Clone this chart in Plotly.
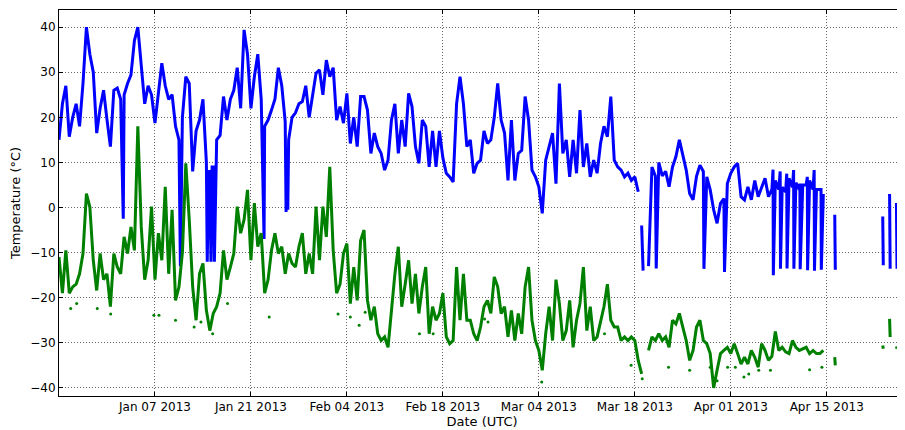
import pandas as pd
import plotly.graph_objects as go

# ---------------- data (12-hourly samples starting 2012-12-24 00:00 UTC) ----------------
START = "2012-12-24 00:00"

blue_base = [
    15, 23, 27, 15.7, 20, 23, 18, 27.5, 40, 34,
    30, 16.5, 22, 26, 19.5, 13.5, 26, 26.5, 24, 25,
    27.5, 29.4, 37, 40, 31, 23, 27, 25, 18.7, 25,
    32, 27, 24, 25, 18, 15, 20, 29, 27.5, 8,
    17, 19.4, 24, 10, 8, 9, 15, 16, 24.6, 19.4,
    24, 26, 31, 22, 39.4, 34, 22, 29, 34, 24,
    18, 19.4, 21.6, 24, 31, 27, 19, 15, 20, 21,
    23, 23.5, 27, 20, 25, 29.8, 30.5, 25, 32.7, 29,
    31, 19.4, 22.4, 18.7, 25.3, 14.2, 20, 13.5, 24.6, 24.6,
    21.6, 12, 16.5, 13.5, 12, 8.3, 10.5, 19.4, 23, 12,
    19.4, 13.5, 25.3, 22.4, 13.5, 9.8, 19.4, 18, 9, 17,
    9, 17, 11, 7.6, 6.8, 5.7, 23, 29, 23, 13.5,
    15, 7.6, 9.8, 10.5, 17, 14.2, 15, 20, 27.5, 19.4,
    16.5, 6, 19.4, 6, 12, 12.7, 24.6, 19.4, 8.3, 6.8,
    4.6, -1.3, 10.5, 13.5, 16.5, 5.3, 27.5, 12, 15, 6.8,
    15, 7.6, 21.6, 9, 14.2, 6.8, 10.5, 7.6, 14.2, 18,
    15.7, 24.6, 10.5, 9, 8.3, 6.8, 7.6, 6, 6.8, 3.5,
    -4, None, -13, 9, 7, 10, 7, 8, 4.6, 9,
    11.3, 15, 11.3, 8.3, 3.1, 1.7, 6.9, 9.4, 8, 6.8,
    3.9, -0.5, -3.5, 0.9, 2, 5.3, 7.6, 9, 9.8, 2.4,
    1.7, 4.6, 1.7, 6, 2.4, 4.6, 6.5, 2.4, 4, 6,
    4, 4.5, 3.5, 6.5, 4.5, 5.5, 4, 5, 5, 6,
    4, 4, 4, 3, None, None, None, None, None, None,
    None, None, None, None, None, None, None, None, None, None,
    None, None, None, None, None, None, None,
]

green_base = [
    -11, -19, -9.5, -19, -17.6, -17, -14.7, -10.2, 3.1, 0.1,
    -11.7, -18.4, -10.2, -16, -14.7, -22, -10.2, -13.2, -14.7, -6.5,
    -10.2, -4.3, -9.5, 18, -4.3, -16, -11.7, 0.2, -16, -5.7,
    -11.7, 4.6, -14.7, -0.5, -20.6, -17.6, -10, 9.8, -2.7, -17.6,
    -25, -14.7, -12.4, -22.8, -27.3, -23.5, -22, -19, -9.5, -16,
    -13.2, -10.2, 0.2, -5.7, -2.7, 3.9, -11.7, 1, -8.7, -5.7,
    -19, -16, -9.5, -5.7, -10.2, -8.7, -14.7, -10.2, -12.4, -13.2,
    -8.7, -5.7, -14.7, -10.2, -14.7, 0.2, -11.7, 0.2, -6.5, 9,
    -9.5, -19, -17, -10.2, -8, -21.3, -13.2, -20.6, -7.3, -5,
    -20.6, -25, -22, -28, -29.5, -28.7, -31, -22, -14.7, -8.7,
    -22, -17, -11.7, -21.3, -14.7, -23.5, -17.6, -13.2, -28, -22,
    -25, -23.5, -19, -28.7, -30.2, -29.5, -13.2, -25, -14.7, -25,
    -25, -28, -29.5, -26.5, -22, -20.6, -23.5, -15.4, -17.6, -23.5,
    -22, -28.7, -22.8, -29.5, -23.5, -28, -17.6, -13.2, -25, -29.5,
    -31.7, -36.1, -28, -22, -29.5, -16, -21.3, -29.5, -27.3, -20.6,
    -31, -25, -21.3, -13.2, -27.3, -22, -29.5, -28.7, -25, -22,
    -17, -25, -26.5, -26.5, -29.5, -28.7, -29.5, -28.7, -29.5, -33.9,
    -36.9, None, -31.7, -28.7, -29.5, -28, -29.5, -28.7, -31, -25,
    -25.8, -23.5, -26.5, -29.5, -33.9, -31.7, -26.5, -25, -29.5, -30.2,
    -32.4, -40, -36.1, -32.4, -31.7, -31, -32.4, -30.2, -32.4, -34.7,
    -33.2, -34.7, -31.7, -33.2, -35.4, -30.2, -31.7, -33.9, -33, -27.5,
    -31.7, -31, -32, -32.4, -29.5, -31, -31.7, -31.3, -31, -32.4,
    -31.7, -32.4, -32.4, -31.7, None, None, None, None, None, None,
    None, None, None, None, None, None, None, None, None, None,
    None, None, None, None, None, None, None,
]

# short-lived readings between the 12-hourly samples (drops, isolated segments)
blue_event_times = [
    "2013-01-02 09:00", "2013-01-10 17:00",
    "2013-01-14 15:00", "2013-01-14 20:00", "2013-01-15 04:00", "2013-01-15 08:00", "2013-01-15 16:00",
    "2013-01-22 22:00",
    "2013-01-26 03:00", "2013-01-26 06:00", "2013-01-26 09:00",
    "2013-03-18 20:00", "2013-03-19 05:00", "2013-03-21 03:00",
    "2013-03-28 02:00", "2013-03-31 02:00",
    "2013-04-07 04:00", "2013-04-07 05:00", "2013-04-08 05:00", "2013-04-08 06:00",
    "2013-04-09 04:00", "2013-04-09 05:00", "2013-04-10 04:00", "2013-04-10 05:00",
    "2013-04-11 02:00", "2013-04-11 03:00", "2013-04-12 04:00", "2013-04-12 05:00",
    "2013-04-13 04:00", "2013-04-13 05:00", "2013-04-14 04:00", "2013-04-14 05:00",
    "2013-04-16 04:00", "2013-04-16 06:00", "2013-04-23 04:00", "2013-04-23 06:00",
    "2013-04-24 04:00", "2013-04-24 06:00", "2013-04-25 04:00", "2013-04-25 06:00",
    "2013-04-26 03:00", "2013-04-26 05:00",
]
blue_event_values = [
    -2.5, -13,
    -12, 8, -12, 9, -12,
    -7,
    -1, 10, -0.5,
    None, -14, -13.5,
    -13.6, -14.3,
    8.4, -15, 8, -13.6,
    7.5, -13.5, 8.3, -13.6,
    5.3, -13.7, 6.8, -13.9,
    8.3, -14, 4, -13.8,
    -1.6, -13.8, -2, -12.8,
    3, -13.6, 1, -13.6,
    -3.2, -11.7,
]

green_event_times = [
    "2013-04-16 04:00", "2013-04-16 06:00", "2013-04-23 04:00", "2013-04-23 06:00",
    "2013-04-24 04:00", "2013-04-24 06:00", "2013-04-25 04:00", "2013-04-25 06:00",
    "2013-04-26 03:00", "2013-04-26 05:00",
]
green_event_values = [-33.2, -35, -30.6, -31.3, -24.7, -28.7, -30.8, -31.3, -31.3, -31.7]

# isolated green readings below the main trace
green_dot_times = [
    "2012-12-25 17:00", "2012-12-26 14:00", "2012-12-29 14:00", "2012-12-31 13:00",
    "2013-01-06 20:00", "2013-01-07 14:00", "2013-01-10 00:00", "2013-01-12 17:00",
    "2013-01-13 17:00", "2013-01-15 10:00", "2013-01-17 14:00", "2013-01-23 16:00",
    "2013-02-02 17:00", "2013-02-04 12:00", "2013-02-05 19:00", "2013-02-06 16:00",
    "2013-02-14 14:00", "2013-02-16 14:00", "2013-02-24 02:00", "2013-02-24 14:00",
    "2013-03-04 10:00", "2013-03-13 14:00", "2013-03-17 11:00", "2013-03-19 02:00",
    "2013-03-22 22:00", "2013-03-26 00:00", "2013-03-29 00:00", "2013-03-30 00:00",
    "2013-03-31 13:00", "2013-04-01 16:00", "2013-04-02 22:00", "2013-04-03 15:00",
    "2013-04-05 02:00", "2013-04-06 19:00", "2013-04-12 12:00", "2013-04-14 07:00",
]
green_dot_values = [
    -22.4, -21.3, -22.4, -23.6, -23.9, -23.9, -25, -26.5,
    -25.4, -28, -21.3, -24.3, -23.6, -24.3, -26.1, -23.2,
    -28, -28, -24.7, -25.4, -38.7, -28, -35, -38,
    -35.4, -36.1, -35.4, -38.4, -35.4, -35.4, -37.6, -36.9,
    -36.1, -36.1, -36, -35.4,
]

tick_dates = ["2013-01-07", "2013-01-21", "2013-02-04", "2013-02-18",
              "2013-03-04", "2013-03-18", "2013-04-01", "2013-04-15"]
y_ticks = [-40, -30, -20, -10, 0, 10, 20, 30, 40]


def build(base, ev_t, ev_v):
    t = pd.date_range(START, periods=len(base), freq="12h")
    s = pd.DataFrame({"t": t, "v": pd.array(base, dtype="Float64")})
    e = pd.DataFrame({"t": pd.to_datetime(ev_t), "v": pd.array(ev_v, dtype="Float64")})
    df = pd.concat([s, e], ignore_index=True).sort_values("t", kind="stable")
    vals = [None if pd.isna(v) else float(v) for v in df["v"]]
    return list(df["t"]), vals


bt, bv = build(blue_base, blue_event_times, blue_event_values)
gt, gv = build(green_base, green_event_times, green_event_values)

fig = go.Figure()
fig.add_trace(go.Scatter(x=bt, y=bv, mode="lines", connectgaps=False,
                         line=dict(color="#0000ff", width=3), showlegend=False))
fig.add_trace(go.Scatter(x=gt, y=gv, mode="lines", connectgaps=False,
                         line=dict(color="#008000", width=3), showlegend=False))
fig.add_trace(go.Scatter(x=pd.to_datetime(green_dot_times), y=green_dot_values, mode="markers",
                         marker=dict(color="#008000", size=3), showlegend=False))

# the page body has an 8px default margin, so the figure is sized to fit the window
fig.update_layout(
    width=897, height=422,
    margin=dict(l=51, r=0, t=2, b=34),
    paper_bgcolor="white", plot_bgcolor="white",
    font=dict(family="DejaVu Sans", size=12, color="black"),
)
grid_style = dict(showgrid=True, gridcolor="rgba(0,0,0,0.6)", griddash="1px,2px", gridwidth=1)
fig.update_xaxes(
    range=["2012-12-24 00:00", "2013-04-26 10:00"],
    tickvals=pd.to_datetime(tick_dates),
    ticktext=[pd.Timestamp(d).strftime("%b %d %Y") for d in tick_dates],
    ticks="inside", ticklen=4, tickcolor="black",
    showline=True, linecolor="black", linewidth=1, mirror="ticks",
    zeroline=False,
    title=dict(text="Date (UTC)", font=dict(family="DejaVu Sans", size=13), standoff=3),
    **grid_style,
)
fig.update_yaxes(
    range=[-41.8, 43.8],
    tickvals=y_ticks,
    ticks="inside", ticklen=4, tickcolor="black",
    showline=True, linecolor="black", linewidth=1, mirror="ticks",
    zeroline=False,
    title=dict(text="Temperature (°C)", font=dict(family="DejaVu Sans", size=13), standoff=6),
    **grid_style,
)

fig.write_html("out.html")
